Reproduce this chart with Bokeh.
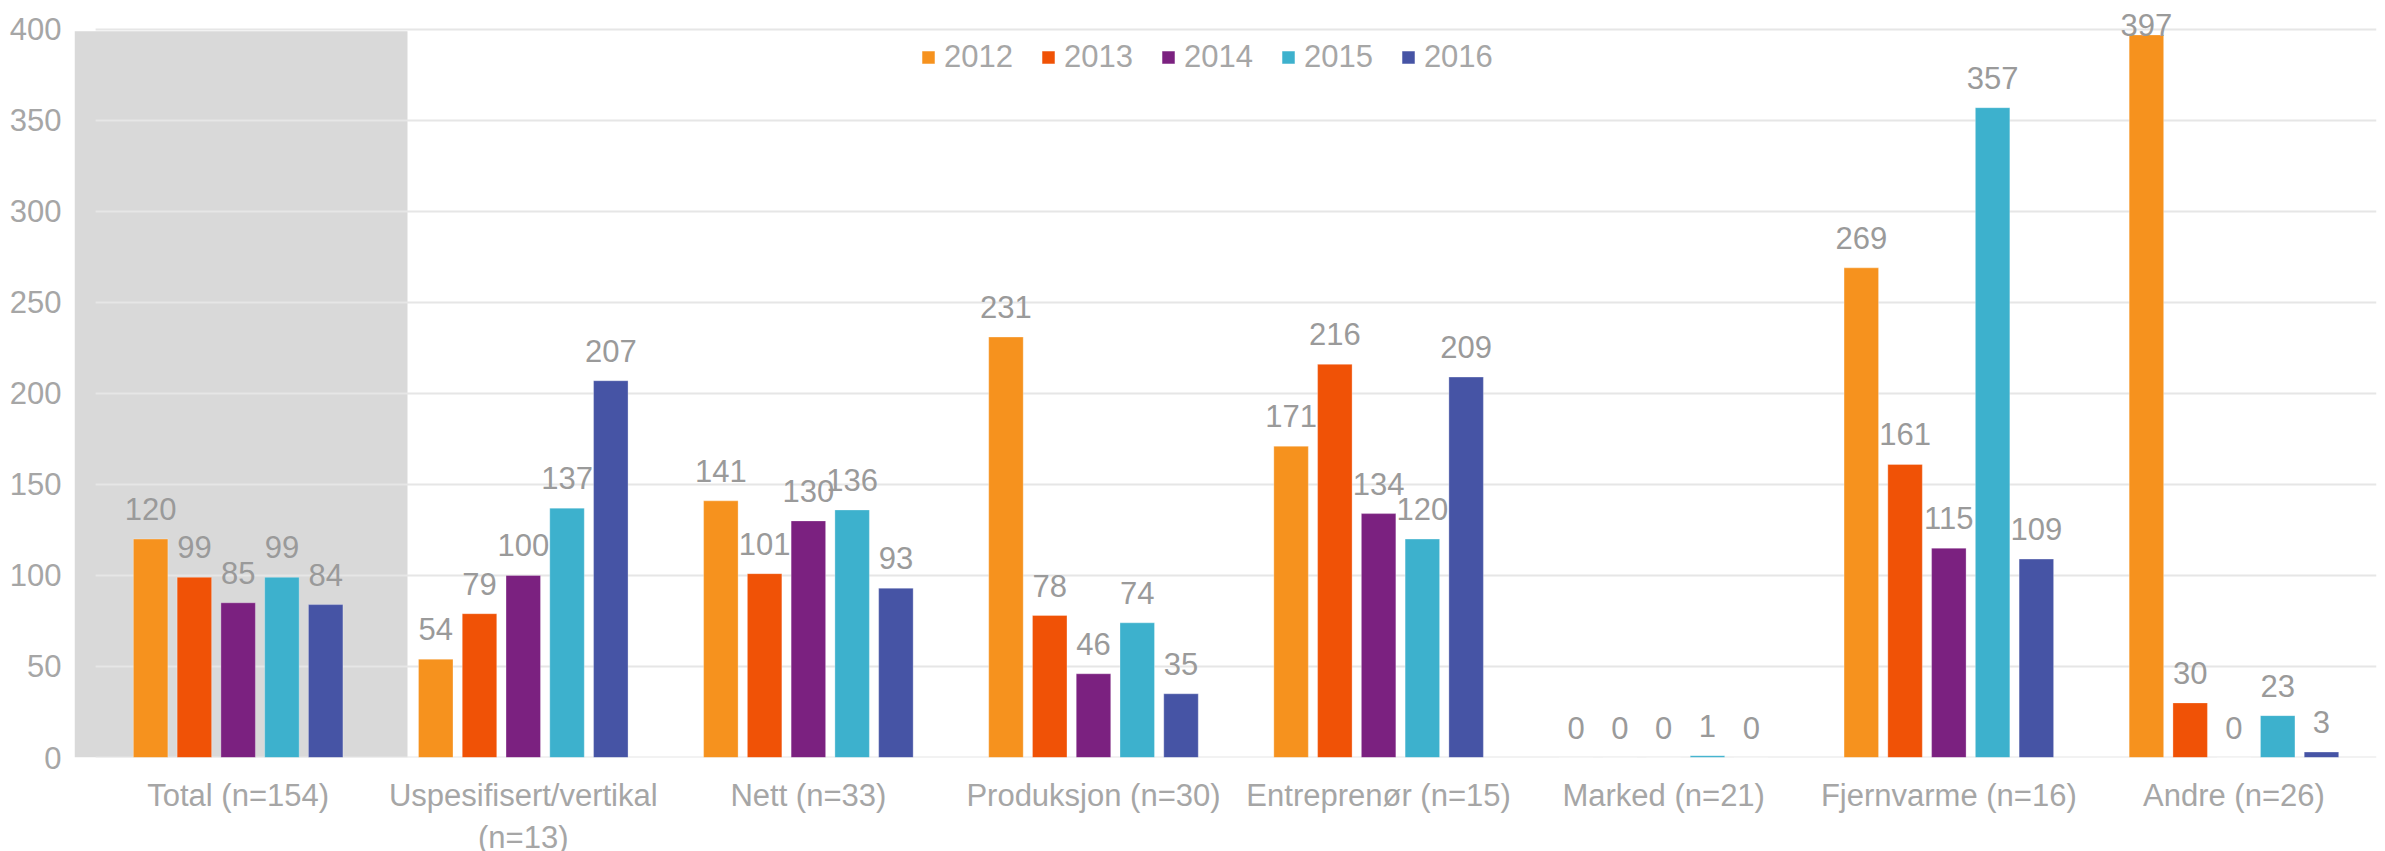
from bokeh.plotting import figure
from bokeh.models import Range1d, FixedTicker, Legend, LegendItem
from bokeh.core.properties import value
from bokeh.embed import file_html
from bokeh.resources import INLINE

categories = ["Total (n=154)", "Uspesifisert/vertikal\n(n=13)", "Nett (n=33)",
              "Produksjon (n=30)", "Entreprenør (n=15)", "Marked (n=21)",
              "Fjernvarme (n=16)", "Andre (n=26)"]
years = ["2012", "2013", "2014", "2015", "2016"]
v2012 = [120, 54, 141, 231, 171, 0, 269, 397]
v2013 = [99, 79, 101, 78, 216, 0, 161, 30]
v2014 = [85, 100, 130, 46, 134, 0, 115, 0]
v2015 = [99, 137, 136, 74, 120, 1, 357, 23]
v2016 = [84, 207, 93, 35, 209, 0, 109, 3]
series = [v2012, v2013, v2014, v2015, v2016]
colors = ["#F6921E", "#F05206", "#7B2180", "#3DB1CD", "#4654A5"]
y_ticks = [0, 50, 100, 150, 200, 250, 300, 350, 400]

FONT = "Liberation Sans"
GRAY = "#A6A6A6"
LABEL_CAP = 386  # labels of very tall bars are kept inside the plot area

p = figure(frame_width=2302, frame_height=749,
           x_range=Range1d(-0.574, 7.5), y_range=Range1d(0, 411.5),
           output_backend="svg", toolbar_location=None,
           min_border_left=74, min_border_top=8, min_border_right=9, min_border_bottom=0)
p.outline_line_color = None
p.grid.visible = False
p.background_fill_color = "white"

# highlight box behind the first category
p.quad(left=-0.574, right=0.594, bottom=0, top=399, fill_color="#D9D9D9", line_color=None)

# gridlines
n = len(categories)
p.segment(x0=[-0.5] * len(y_ticks), x1=[n - 0.5] * len(y_ticks), y0=y_ticks, y1=y_ticks,
          line_color="#E6E6E6", line_width=2)

step = 0.1535
bw = 0.121
items = []
for j, (yr, vals, col) in enumerate(zip(years, series, colors)):
    xs = [i + (j - 2) * step for i in range(n)]
    r = p.vbar(x=xs, top=vals, bottom=0, width=bw, fill_color=col,
               line_color="white", line_alpha=0.3, line_width=1)
    items.append(LegendItem(label=yr, renderers=[r]))
    p.text(x=xs, y=[min(v, LABEL_CAP) for v in vals], text=[str(v) for v in vals],
           text_align="center", text_baseline="alphabetic", y_offset=-30,
           text_font=value(FONT), text_font_size="31px", text_color="#9A9A9A")

legend = Legend(items=items, orientation="horizontal", location=(846, 682),
                glyph_width=16, glyph_height=16, label_standoff=8, spacing=27,
                padding=0, border_line_color=None, background_fill_alpha=0,
                label_text_font_size="31px", label_text_color=GRAY,
                label_text_font=FONT)
p.add_layout(legend)

p.xaxis.ticker = FixedTicker(ticks=list(range(n)))
p.xaxis.major_label_overrides = {i: c for i, c in enumerate(categories)}
p.xaxis.axis_line_color = None
p.xaxis.major_tick_line_color = None
p.xaxis.minor_tick_line_color = None
p.xaxis.major_label_standoff = 14
p.xaxis.major_label_text_font = FONT
p.xaxis.major_label_text_font_size = "31px"
p.xaxis.major_label_text_color = GRAY

p.yaxis.ticker = FixedTicker(ticks=y_ticks)
p.yaxis.axis_line_color = None
p.yaxis.major_tick_line_color = None
p.yaxis.minor_tick_line_color = None
p.yaxis.major_label_standoff = 7
p.yaxis.major_label_text_font = FONT
p.yaxis.major_label_text_font_size = "31px"
p.yaxis.major_label_text_color = GRAY

open("out.html", "w").write(file_html(p, INLINE, "chart"))
